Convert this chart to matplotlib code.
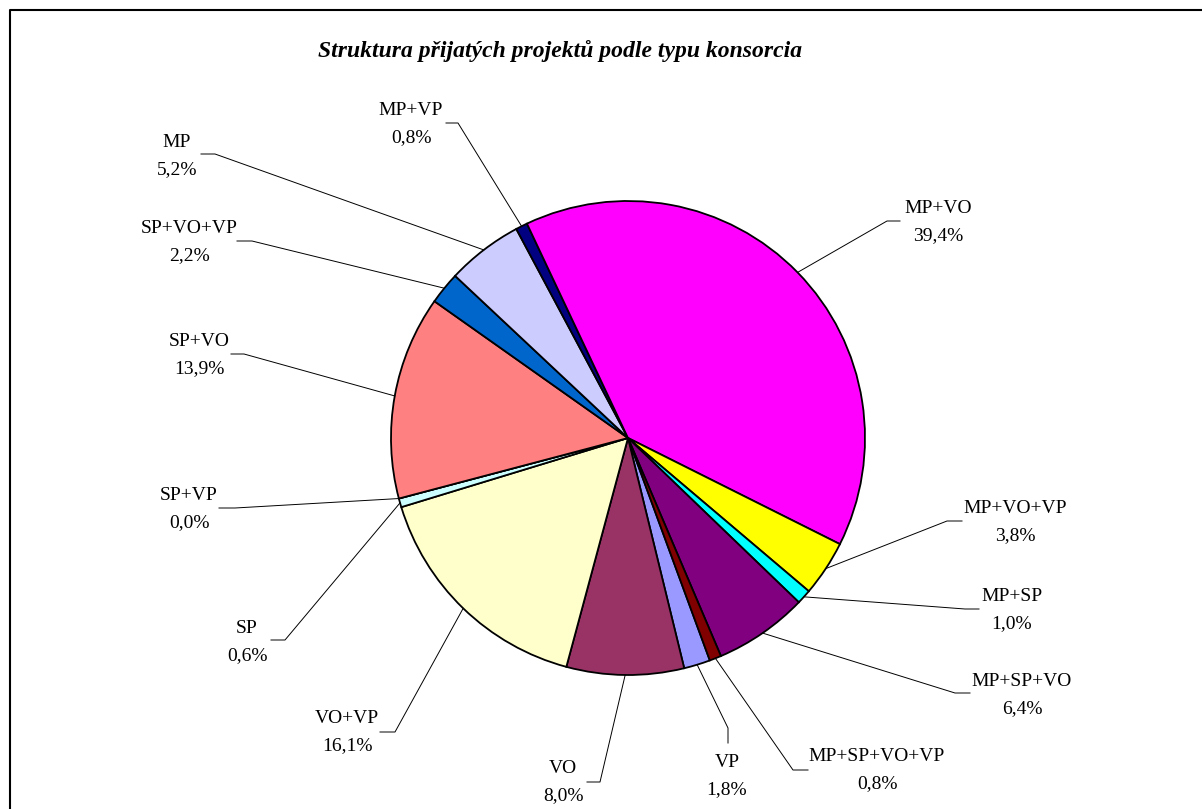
import numpy as np
import matplotlib.pyplot as plt

W, H = 1202, 809

# data, in Excel's series order (drawn clockwise)
categories = ['VP', 'VO', 'VO+VP', 'SP', 'SP+VP', 'SP+VO', 'SP+VO+VP',
              'MP', 'MP+VP', 'MP+VO', 'MP+VO+VP', 'MP+SP', 'MP+SP+VO',
              'MP+SP+VO+VP']
shares = [1.8, 8.0, 16.1, 0.6, 0.0, 13.9, 2.2,
          5.2, 0.8, 39.4, 3.8, 1.0, 6.4,
          0.8]
colors = ['#9999FF', '#993366', '#FFFFCC', '#CCFFFF', '#660066', '#FF8080', '#0066CC',
          '#CCCCFF', '#000080', '#FF00FF', '#FFFF00', '#00FFFF', '#800080',
          '#800000']

# layout in pixels (y down): label centre, leader elbow, leader end
label_pos = [(727, 774), (563, 780), (347, 730), (247, 640), (189, 507), (199, 353), (189, 240),
             (177, 154), (411, 122), (938, 220), (1015, 520), (1012, 608), (1022, 693),
             (877, 768)]
elbows = [(728, 728), (600, 782), (395, 732), (285, 640), (235, 508), (244, 354), (252, 241),
          (215, 154), (458, 123), (887, 221), (947, 521), (965, 609), (955, 693),
          (793, 770)]
ends = [(728, 743), (587, 782), (380, 732), (271, 640), (219, 508), (231, 354), (237, 241),
        (201, 154), (446, 123), (900, 221), (962, 521), (979, 609), (970, 693),
        (808, 770)]

cx, cy, r = 628, 438, 237
serif = ['Liberation Serif', 'DejaVu Serif']


def px(x, y):
    return x, H - y


fig = plt.figure(figsize=(W / 100, H / 100), dpi=100)
ax = fig.add_axes([0, 0, 1, 1])

wedges, _ = ax.pie(shares, colors=colors, startangle=-69.8, counterclock=False,
                   center=px(cx, cy), radius=r,
                   wedgeprops=dict(edgecolor='black', linewidth=1.3))
ax.set_xlim(0, W)
ax.set_ylim(0, H)
ax.set_aspect('auto')
ax.axis('off')

for w, name, v, (lx, ly), el, en in zip(wedges, categories, shares, label_pos, elbows, ends):
    mid = np.deg2rad((w.theta1 + w.theta2) / 2)
    x0 = cx + r * np.cos(mid)
    y0 = cy - r * np.sin(mid)
    xs = [x0, el[0], en[0]]
    ys = [H - y0, H - el[1], H - en[1]]
    ax.plot(xs, ys, color='black', linewidth=0.7)
    pct = f"{v:.1f}%".replace('.', ',')
    ax.text(*px(lx, ly - 7), name, ha='center', va='baseline', fontsize=14, family=serif)
    ax.text(*px(lx, ly + 20), pct, ha='center', va='baseline', fontsize=14, family=serif)

ax.text(*px(560, 57), 'Struktura přijatých projektů podle typu konsorcia', ha='center',
        va='baseline', fontsize=17, fontweight='bold', fontstyle='italic', family=serif)

# chart area border (only left and top edges fall inside the picture)
ax.plot([10, 10, W + 5], [-5, H - 10, H - 10], color='black', linewidth=1.5,
        clip_on=False)

fig.savefig('out.png', dpi=100)
